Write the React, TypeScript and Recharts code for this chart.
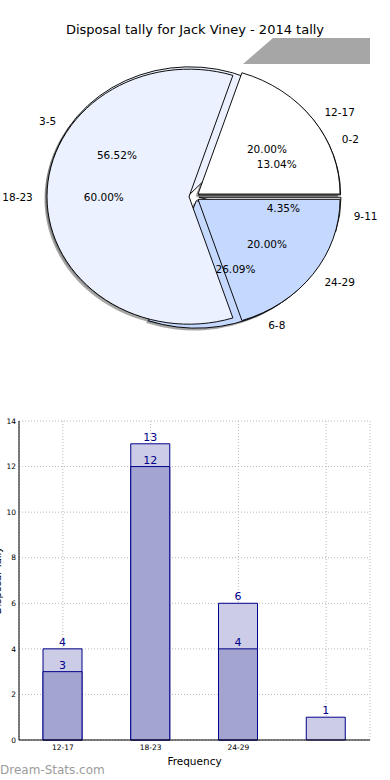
import React from 'react';
import { PieChart, Pie, Cell, BarChart, Bar, XAxis, YAxis, CartesianGrid, LabelList } from 'recharts';

// ---- data ----
const ageGroupNames = ['12-17', '18-23', '24-29'];
const ageGroupValues = [3, 9, 3];
const ageGroupColors = ['#ffffff', '#ebf1fe', '#c5d8fe'];

const tallyNames = ['0-2', '3-5', '6-8', '9-11'];
const tallyValues = [3, 13, 6, 1];
const tallyColors = ['#ffffff', '#ebf1fe', '#c5d8fe', '#f4f4f4'];

const barCategories = ['12-17', '18-23', '24-29', ''];
const barTotals = [4, 13, 6, 1];
const barWins: (number | null)[] = [3, 12, 4, null];
const yTicks = [0, 2, 4, 6, 8, 10, 12, 14];

// ---- styling constants ----
const FONT = 'DejaVu Sans';
const RAD = Math.PI / 180;
const S = 0.898; // vertical squash of the pie (ellipse)
const PIE_W = 390;
const PIE_H = 320;
const PIE_CX = 194;
const PIE_CY = 160;
const R = 142;
const EXPLODE = 5;
const SHADOW_DX = -2.5;
const SHADOW_DY = 2.5;

function midAngles(values: number[]) {
  const total = values.reduce((a, b) => a + b, 0);
  let acc = 0;
  return values.map((v) => {
    const m = ((acc + v / 2) / total) * 360;
    acc += v;
    return m;
  });
}

function unsquash(y: number) {
  return `translate(0 ${y}) scale(1 ${1 / S}) translate(0 ${-y})`;
}

function slicePies(prefix: string, names: string[], values: number[], colors: string[], shadow: boolean) {
  const data = names.map((n, i) => ({ name: n, value: values[i] }));
  const mids = midAngles(values);
  return names.map((_, i) => {
    const dx = EXPLODE * Math.cos(mids[i] * RAD) + (shadow ? SHADOW_DX : 0);
    const dy = -EXPLODE * Math.sin(mids[i] * RAD) + (shadow ? SHADOW_DY : 0);
    return (
      <Pie
        key={`${prefix}-${i}`}
        data={data}
        dataKey="value"
        nameKey="name"
        cx={PIE_CX + dx}
        cy={PIE_CY + dy}
        innerRadius={0}
        outerRadius={R}
        startAngle={0}
        endAngle={360}
        isAnimationActive={false}
        label={false}
        labelLine={false}
      >
        {data.map((d, j) => (
          <Cell
            key={`${prefix}-${i}-${j}`}
            fill={j === i ? (shadow ? '#4d4d4d' : colors[j]) : 'none'}
            fillOpacity={shadow ? 0.5 : 1}
            stroke={j === i && !shadow ? '#000' : 'none'}
            strokeWidth={1}
          />
        ))}
      </Pie>
    );
  });
}

function labelPie(prefix: string, names: string[], values: number[]) {
  const data = names.map((n, i) => ({ name: n, value: values[i] }));
  const render = (p: any) => {
    const rad = -p.midAngle * RAD;
    const c = Math.cos(rad);
    const s = Math.sin(rad);
    const ox = p.cx + (EXPLODE + 1.1 * R) * c;
    const oy = p.cy + (EXPLODE + 1.1 * R) * s;
    const ix = p.cx + (EXPLODE + 0.6 * R) * c;
    const iy = p.cy + (EXPLODE + 0.6 * R) * s;
    return (
      <g key={`${prefix}-lab-${p.index}`}>
        <text x={ox} y={oy} textAnchor={c > 0 ? 'start' : 'end'} dominantBaseline="central"
          transform={unsquash(oy)} fontSize={10.5} fontFamily={FONT} fill="#000">
          {names[p.index]}
        </text>
        <text x={ix} y={iy} textAnchor="middle" dominantBaseline="central"
          transform={unsquash(iy)} fontSize={10.5} fontFamily={FONT} fill="#000">
          {(p.percent * 100).toFixed(2)}%
        </text>
      </g>
    );
  };
  return (
    <Pie
      key={`${prefix}-labels`}
      data={data}
      dataKey="value"
      nameKey="name"
      cx={PIE_CX}
      cy={PIE_CY}
      innerRadius={0}
      outerRadius={R}
      startAngle={0}
      endAngle={360}
      isAnimationActive={false}
      label={render}
      labelLine={false}
    >
      {data.map((d, j) => (
        <Cell key={`${prefix}-lc-${j}`} fill="none" stroke="none" />
      ))}
    </Pie>
  );
}

const barData = barCategories.map((c, i) => ({ cat: c, total: barTotals[i], wins: barWins[i] }));

const YLabel = (props: any) => {
  const vb = props.viewBox || { x: 0, y: 421, width: 19, height: 319 };
  const x = vb.x - 3;
  const y = vb.y + vb.height / 2;
  return (
    <text x={x} y={y} transform={`rotate(-90 ${x} ${y})`} textAnchor="middle" dominantBaseline="central"
      fontSize={10} fontFamily={FONT} fill="#000">
      Disposal Tally
    </text>
  );
};

export default function App() {
  return (
    <div style={{ position: 'absolute', left: 0, top: 0, width: 390, height: 780, background: '#fff', fontFamily: FONT, overflow: 'hidden' }}>
      <div style={{ position: 'absolute', left: 0, top: 22, width: 390, textAlign: 'center', fontSize: 13, lineHeight: '16px', color: '#000' }}>
        Disposal tally for Jack Viney - 2014 tally
      </div>
      <div style={{ position: 'absolute', left: 243, top: 38, width: 127, height: 26, background: '#a6a6a6', clipPath: 'polygon(30px 0, 127px 0, 127px 26px, 0 26px)' }} />
      <div style={{ position: 'absolute', left: 0, top: 196.5 - PIE_CY * S, width: PIE_W, height: PIE_H, transform: `scaleY(${S})`, transformOrigin: '0 0' }}>
        <PieChart width={PIE_W} height={PIE_H} margin={{ top: 0, right: 0, bottom: 0, left: 0 }}>
          {slicePies('tallyShadow', tallyNames, tallyValues, tallyColors, true)}
          {slicePies('ageShadow', ageGroupNames, ageGroupValues, ageGroupColors, true)}
          {slicePies('tally', tallyNames, tallyValues, tallyColors, false)}
          {slicePies('age', ageGroupNames, ageGroupValues, ageGroupColors, false)}
          {labelPie('tally', tallyNames, tallyValues)}
          {labelPie('age', ageGroupNames, ageGroupValues)}
        </PieChart>
      </div>
      <div style={{ position: 'absolute', left: 0, top: 400 }}>
        <BarChart width={390} height={380} data={barData} margin={{ top: 21, right: 20, bottom: 10, left: 0 }}
          barSize={39} barGap={-39} barCategoryGap={0}>
          <CartesianGrid stroke="#b8b8b8" strokeDasharray="1 2" />
          <XAxis dataKey="cat" interval={0} tickLine={false} axisLine={{ stroke: '#000' }} height={30}
            tick={{ fontSize: 7.5, fill: '#000', fontFamily: FONT }} tickSize={3} tickMargin={2}
            label={{ value: 'Frequency', position: 'insideBottom', offset: 5, fontSize: 10.5, fill: '#000', fontFamily: FONT }} />
          <XAxis xAxisId="top" orientation="top" dataKey="cat" tick={false} tickLine={false} height={0} axisLine={{ stroke: '#000' }} />
          <YAxis domain={[0, 14]} ticks={yTicks} width={19} tickLine={false} axisLine={{ stroke: '#000' }}
            tick={{ fontSize: 7.5, fill: '#000', fontFamily: FONT }} tickSize={3} tickMargin={0}
            label={<YLabel />} />
          <YAxis yAxisId="right" orientation="right" domain={[0, 14]} ticks={yTicks} tick={false} tickLine={false} width={0} axisLine={{ stroke: '#000' }} />
          <Bar dataKey="total" fill="#ccccE6" stroke="#00008b" strokeWidth={1} isAnimationActive={false}>
            <LabelList dataKey="total" position="top" offset={3} fill="#00008b" fontSize={11} fontFamily={FONT} />
          </Bar>
          <Bar dataKey="wins" fill="#a3a5d0" stroke="#00008b" strokeWidth={1} isAnimationActive={false}>
            <LabelList dataKey="wins" position="top" offset={3} fill="#00008b" fontSize={11} fontFamily={FONT} />
          </Bar>
        </BarChart>
      </div>
      <div style={{ position: 'absolute', left: 0, top: 762, fontSize: 12, lineHeight: '16px', color: '#9c9c9c' }}>
        Dream-Stats.com
      </div>
    </div>
  );
}
